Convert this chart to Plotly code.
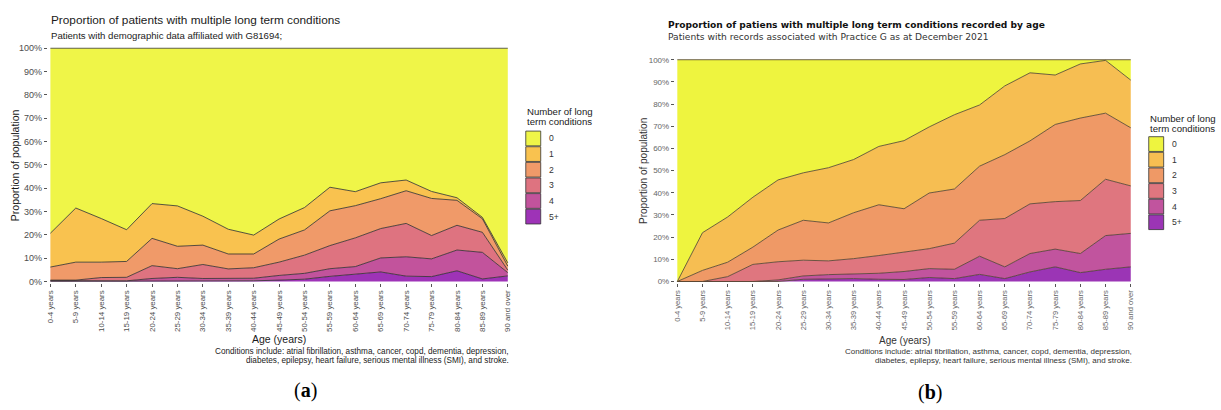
import plotly.graph_objects as go

W, H = 1221, 410

age_groups = ["0-4 years", "5-9 years", "10-14 years", "15-19 years", "20-24 years",
              "25-29 years", "30-34 years", "35-39 years", "40-44 years", "45-49 years",
              "50-54 years", "55-59 years", "60-64 years", "65-69 years", "70-74 years",
              "75-79 years", "80-84 years", "85-89 years", "90 and over"]
ltc_levels = ["0", "1", "2", "3", "4", "5+"]
y_ticks = [0, 10, 20, 30, 40, 50, 60, 70, 80, 90, 100]
y_tick_labels = ["0%", "10%", "20%", "30%", "40%", "50%", "60%", "70%", "80%", "90%", "100%"]

# Panel (a): percentage of patients by number of long term conditions
a_ltc0 = [79.3, 68.5, 73.0, 77.8, 66.6, 67.6, 72.0, 77.6, 80.1, 73.2, 68.3, 59.6, 61.5, 57.7, 56.5, 61.4, 64.1, 72.5, 92.0]
a_ltc1 = [14.5, 23.2, 18.7, 13.6, 14.9, 17.3, 12.4, 10.6, 8.1, 8.6, 9.6, 10.1, 6.0, 6.8, 4.6, 3.0, 1.1, 0.6, 1.4]
a_ltc2 = [5.6, 7.7, 6.6, 6.8, 11.7, 9.6, 8.3, 6.4, 5.9, 9.9, 10.8, 14.9, 13.8, 12.8, 14.0, 15.9, 10.7, 5.8, 1.7]
a_ltc3 = [0.2, 0.2, 1.4, 1.5, 5.5, 3.7, 6.0, 4.0, 4.5, 5.7, 7.8, 9.9, 12.3, 12.6, 14.3, 10.0, 10.6, 8.6, 1.1]
a_ltc4 = [0.3, 0.3, 0.2, 0.2, 1.1, 1.6, 1.0, 1.1, 1.1, 2.0, 2.5, 3.3, 3.4, 6.0, 8.3, 7.6, 8.9, 11.4, 1.4]
a_ltc5 = [0.1, 0.1, 0.1, 0.1, 0.2, 0.2, 0.3, 0.3, 0.3, 0.6, 1.0, 2.2, 3.0, 4.1, 2.3, 2.1, 4.6, 1.1, 2.4]

# Panel (b)
b_ltc0 = [100.0, 78.0, 70.9, 62.0, 54.2, 51.0, 48.7, 45.0, 39.1, 36.5, 30.3, 24.8, 20.4, 11.8, 5.9, 6.9, 1.9, 0.3, 9.2]
b_ltc1 = [0.0, 17.0, 20.4, 22.5, 22.6, 21.4, 24.9, 24.0, 26.3, 30.7, 29.8, 33.5, 27.6, 31.0, 30.7, 22.3, 24.4, 23.8, 21.5]
b_ltc2 = [0.0, 5.0, 6.5, 7.8, 14.3, 18.0, 17.1, 20.7, 22.9, 19.5, 25.1, 24.4, 24.4, 28.8, 28.4, 34.8, 37.2, 29.8, 26.2]
b_ltc3 = [0.0, 0.0, 2.2, 7.7, 8.2, 7.1, 6.2, 6.8, 8.0, 8.8, 9.0, 11.8, 16.2, 21.8, 22.4, 21.4, 23.9, 25.4, 21.4]
b_ltc4 = [0.0, 0.0, 0.0, 0.0, 0.7, 1.5, 1.8, 2.2, 2.7, 3.6, 4.0, 4.2, 8.2, 5.3, 8.3, 8.0, 8.6, 15.2, 15.1]
b_ltc5 = [0.0, 0.0, 0.0, 0.0, 0.0, 1.0, 1.3, 1.3, 1.0, 0.9, 1.8, 1.3, 3.2, 1.3, 4.3, 6.6, 4.0, 5.5, 6.6]

colors_a = ["#EFF548", "#F9C24F", "#F09A69", "#DE7380", "#C2539C", "#9E33B7"]
colors_b = ["#EEF43F", "#F6BE52", "#EF9966", "#DF767F", "#C1549E", "#9B35B5"]

series_a = [a_ltc0, a_ltc1, a_ltc2, a_ltc3, a_ltc4, a_ltc5]
series_b = [b_ltc0, b_ltc1, b_ltc2, b_ltc3, b_ltc4, b_ltc5]

SANS = "Liberation Sans, Arial, sans-serif"
DEJAVU = "DejaVu Sans, Verdana, sans-serif"
SERIF = "Liberation Serif, Times New Roman, serif"


def X(px):
    return px / W


def Y(py):
    return 1 - py / H


fig = go.Figure()
xpos = list(range(len(age_groups)))

for idx in reversed(range(len(ltc_levels))):
    fig.add_trace(go.Scatter(
        x=xpos, y=series_a[idx], mode="lines", stackgroup="a",
        line=dict(color="#2b2b2b", width=0.8), fillcolor=colors_a[idx],
        name=ltc_levels[idx], showlegend=False, hoverinfo="skip",
        xaxis="x", yaxis="y"))

for idx in reversed(range(len(ltc_levels))):
    fig.add_trace(go.Scatter(
        x=xpos, y=series_b[idx], mode="lines", stackgroup="b",
        line=dict(color="#4a3c2c", width=0.8), fillcolor=colors_b[idx],
        name=ltc_levels[idx], showlegend=False, hoverinfo="skip",
        xaxis="x2", yaxis="y2"))

common_x = dict(tickmode="array", tickvals=xpos, ticktext=age_groups, tickangle=-90,
                ticks="outside", ticklen=3, tickcolor="#555555", showgrid=False,
                zeroline=False, showline=False, fixedrange=True)
common_y = dict(tickmode="array", tickvals=y_ticks, ticktext=y_tick_labels, ticks="outside",
                ticklen=3, tickcolor="#555555", showgrid=False, zeroline=False,
                showline=False, fixedrange=True)

annotations = []
shapes = []


def text(x, y, s, size, family=SANS, color="#1a1a1a", xanchor="left", yanchor="middle", angle=0):
    annotations.append(dict(x=X(x), y=Y(y), xref="paper", yref="paper", text=s,
                            showarrow=False, xanchor=xanchor, yanchor=yanchor,
                            textangle=angle, font=dict(size=size, family=family, color=color)))


# Panel (a) texts
text(47, 16, "Proportion of patients with multiple long term conditions", 11.8)
text(47, 32, "Patients with demographic data affiliated with G81694;", 9.6, color="#222222")
text(13, 164, "Proportion of population", 10.5, xanchor="center", angle=-90)
text(278, 341, "Age (years)", 10.5, xanchor="center")
text(511, 354, "Conditions include: atrial fibrillation, asthma, cancer, copd, dementia, depression,", 8.2,
     xanchor="right")
text(511, 363, "diabetes, epilepsy, heart failure, serious mental illness (SMI), and stroke.", 8.2,
     xanchor="right")
text(304, 393, "(<b>a</b>)", 20, family=SERIF, color="#000000", xanchor="center")

# Panel (b) texts
text(666, 21, "<b>Proportion of patiens with multiple long term conditions recorded by age</b>", 9.1,
     family=DEJAVU, color="#111111")
text(666, 34, "Patients with records associated with Practice G as at December 2021", 9.15,
     family=DEJAVU, color="#333333")
text(643, 170, "Proportion of population", 10, xanchor="center", angle=-90, color="#333333")
text(906, 342, "Age (years)", 10, xanchor="center", color="#333333")
text(1136, 354, "Conditions include: atrial fibrillation, asthma, cancer, copd, dementia, depression,", 8,
     xanchor="right", color="#333333")
text(1136, 363, "diabetes, epilepsy, heart failure, serious mental illness (SMI), and stroke.", 8,
     xanchor="right", color="#333333")
text(931, 395, "(<b>b</b>)", 20, family=SERIF, color="#000000", xanchor="center")


# Legends
def legend(x0, ytitle, ybox0, pitch, box, colors, size, gap):
    text(x0, ytitle, "Number of long", size, color="#222222")
    text(x0, ytitle + 10.5, "term conditions", size, color="#222222")
    for i, lab in enumerate(ltc_levels):
        y0 = ybox0 + i * pitch
        shapes.append(dict(type="rect", xref="paper", yref="paper",
                           x0=X(x0 + 0.5), x1=X(x0 + 0.5 + box), y0=Y(y0 + box), y1=Y(y0),
                           fillcolor=colors[i], line=dict(color="#333333", width=0.8)))
        text(x0 + 0.5 + box + gap, y0 + box / 2, lab, size - 1, color="#333333")


legend(525, 109, 129.3, 15.9, 15, colors_a, 9.6, 6)
legend(1150, 116, 135, 15.9, 15, colors_b, 9.6, 6)

fig.update_layout(
    width=W, height=H, margin=dict(l=0, r=0, t=0, b=0),
    paper_bgcolor="white", plot_bgcolor="rgba(0,0,0,0)",
    xaxis=dict(domain=[X(46), X(510)], range=[-0.1, 18.1], anchor="y",
               tickfont=dict(size=7.9, family=SANS, color="#4D4D4D"), **common_x),
    yaxis=dict(domain=[Y(284), Y(44)], range=[-0.7, 100.4], anchor="x",
               tickfont=dict(size=9, family=SANS, color="#4D4D4D"), **common_y),
    xaxis2=dict(domain=[X(675), X(1135)], range=[-0.1, 18.1], anchor="y2",
                tickfont=dict(size=7.6, family=SANS, color="#666666"), **common_x),
    yaxis2=dict(domain=[Y(284), Y(55)], range=[-0.75, 100.75], anchor="x2",
                tickfont=dict(size=8, family=SANS, color="#666666"), **common_y),
    annotations=annotations, shapes=shapes, showlegend=False,
)

fig.write_html(
    "out.html",
    config={"displayModeBar": False},
    post_script="document.body.style.margin='0';document.body.style.padding='0';"
                "document.body.style.overflow='hidden';",
)
